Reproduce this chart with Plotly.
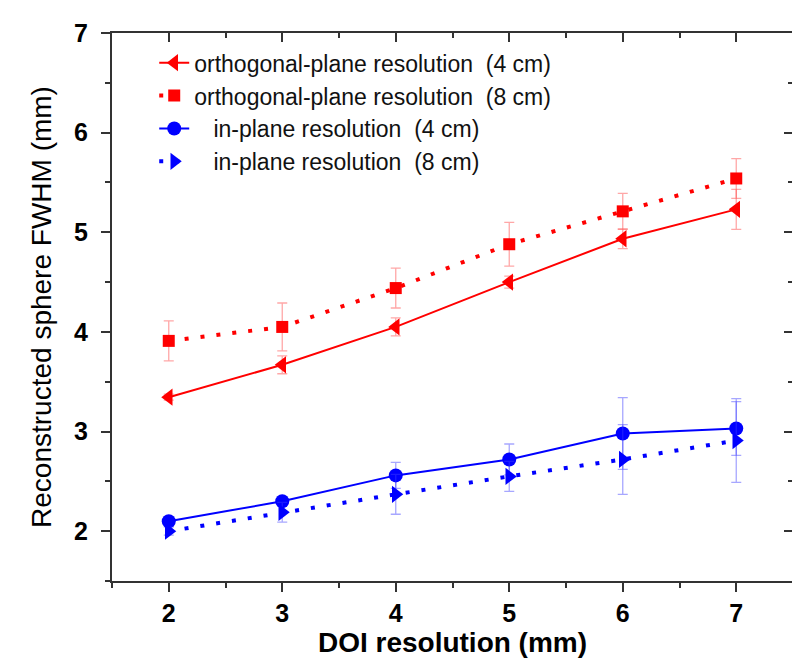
import plotly.graph_objects as go

doi = [2, 3, 4, 5, 6, 7]

ortho_4cm = [3.345, 3.67, 4.05, 4.50, 4.935, 5.23]
ortho_4cm_err = [0.03, 0.09, 0.09, 0.06, 0.10, 0.20]
ortho_8cm = [3.91, 4.05, 4.44, 4.88, 5.21, 5.54]
ortho_8cm_err = [0.20, 0.24, 0.20, 0.22, 0.18, 0.20]
inplane_4cm = [2.10, 2.30, 2.56, 2.72, 2.98, 3.03]
inplane_4cm_err = [0.03, 0.04, 0.13, 0.155, 0.36, 0.27]
inplane_8cm = [2.00, 2.19, 2.37, 2.55, 2.72, 2.91]
inplane_8cm_err = [0.04, 0.10, 0.20, 0.15, 0.35, 0.42]

names = [
    "orthogonal-plane resolution\u00a0\u00a0(4 cm)",
    "orthogonal-plane resolution\u00a0\u00a0(8 cm)",
    "\u00a0\u00a0\u00a0in-plane resolution\u00a0\u00a0(4 cm)",
    "\u00a0\u00a0\u00a0in-plane resolution\u00a0\u00a0(8 cm)",
]

RED = "#ff0000"
BLUE = "#0000ff"
RED_ERR = "rgba(255,60,60,0.45)"
BLUE_ERR = "rgba(60,60,255,0.45)"

series = [
    (ortho_4cm, ortho_4cm_err, RED, RED_ERR, "solid", "triangle-left", 15),
    (ortho_8cm, ortho_8cm_err, RED, RED_ERR, "4px,12px", "square", 12),
    (inplane_4cm, inplane_4cm_err, BLUE, BLUE_ERR, "solid", "circle", 14),
    (inplane_8cm, inplane_8cm_err, BLUE, BLUE_ERR, "4px,12px", "triangle-right", 15),
]

fig = go.Figure()
for i, (ys, es, c, ec, dash, sym, ms) in enumerate(series):
    fig.add_trace(go.Scatter(
        x=doi, y=ys, name=names[i], mode="lines+markers",
        legendgroup=f"g{i}",
        line=dict(color=c, width=2 if dash == "solid" else 4, dash=dash),
        marker=dict(color=c, symbol=sym, size=ms, line=dict(width=0)),
        error_y=dict(type="data", array=es, visible=True, color=ec,
                     thickness=1.3, width=5),
    ))

AX = "#333333"
FONT = "Liberation Sans Narrow, Arial Narrow, Liberation Sans, Arial, sans-serif"
SANS = "Liberation Sans, Arial, sans-serif"

fig.update_layout(
    width=800, height=668,
    margin=dict(l=104, r=15, t=25, b=95),
    plot_bgcolor="white", paper_bgcolor="white",
    font=dict(family=FONT, color="black"),
    showlegend=True,
    legend=dict(
        x=0.062, y=0.985, xanchor="left", yanchor="top",
        bgcolor="rgba(0,0,0,0)", borderwidth=0,
        font=dict(family=SANS, size=23, color="#111111"),
        tracegroupgap=0, traceorder="grouped",
    ),
    xaxis=dict(
        range=[1.5, 7.5], tickvals=doi, ticktext=[str(v) for v in doi],
        showgrid=False, zeroline=False,
        showline=True, linecolor=AX, linewidth=2,
        ticks="outside", ticklen=9, tickwidth=2, tickcolor=AX,
        minor=dict(dtick=0.5, tick0=1.5, ticks="outside", ticklen=5, tickwidth=2, tickcolor=AX),
        tickfont=dict(family=FONT, size=25, color="black", weight="bold"),
        title=dict(text="DOI resolution (mm)", standoff=4,
                   font=dict(family=FONT, size=28, color="black", weight="bold")),
    ),
    yaxis=dict(
        range=[1.5, 7], tickvals=[2, 3, 4, 5, 6, 7],
        showgrid=False, zeroline=False,
        showline=True, linecolor=AX, linewidth=2,
        ticks="outside", ticklen=9, tickwidth=2, tickcolor=AX,
        ticklabelstandoff=8,
        minor=dict(dtick=0.5, tick0=1.5, ticks="outside", ticklen=5, tickwidth=2, tickcolor=AX),
        tickfont=dict(family=SANS, size=25, color="black", weight="bold"),
        title=dict(text="Reconstructed sphere FWHM (mm)", standoff=14,
                   font=dict(family=FONT, size=28, color="black")),
    ),
    xaxis2=dict(
        range=[1.5, 7.5], overlaying="x", side="top",
        tickvals=doi, showticklabels=False, showgrid=False, zeroline=False,
        showline=True, linecolor=AX, linewidth=2,
        ticks="inside", ticklen=9, tickwidth=2, tickcolor=AX,
        minor=dict(dtick=0.5, tick0=1.5, ticks="inside", ticklen=5, tickwidth=2, tickcolor=AX),
    ),
    yaxis2=dict(
        range=[1.5, 7], overlaying="y", side="right",
        tickvals=[2, 3, 4, 5, 6, 7], showticklabels=False, showgrid=False, zeroline=False,
        showline=True, linecolor=AX, linewidth=2,
        ticks="inside", ticklen=9, tickwidth=2, tickcolor=AX,
        minor=dict(dtick=0.5, tick0=1.5, ticks="inside", ticklen=5, tickwidth=2, tickcolor=AX),
    ),
)
# invisible helper trace to activate the mirrored axes
fig.add_trace(go.Scatter(x=[None], y=[None], xaxis="x2", yaxis="y2",
                         showlegend=False, hoverinfo="skip"))

fig.write_html("out.html")
